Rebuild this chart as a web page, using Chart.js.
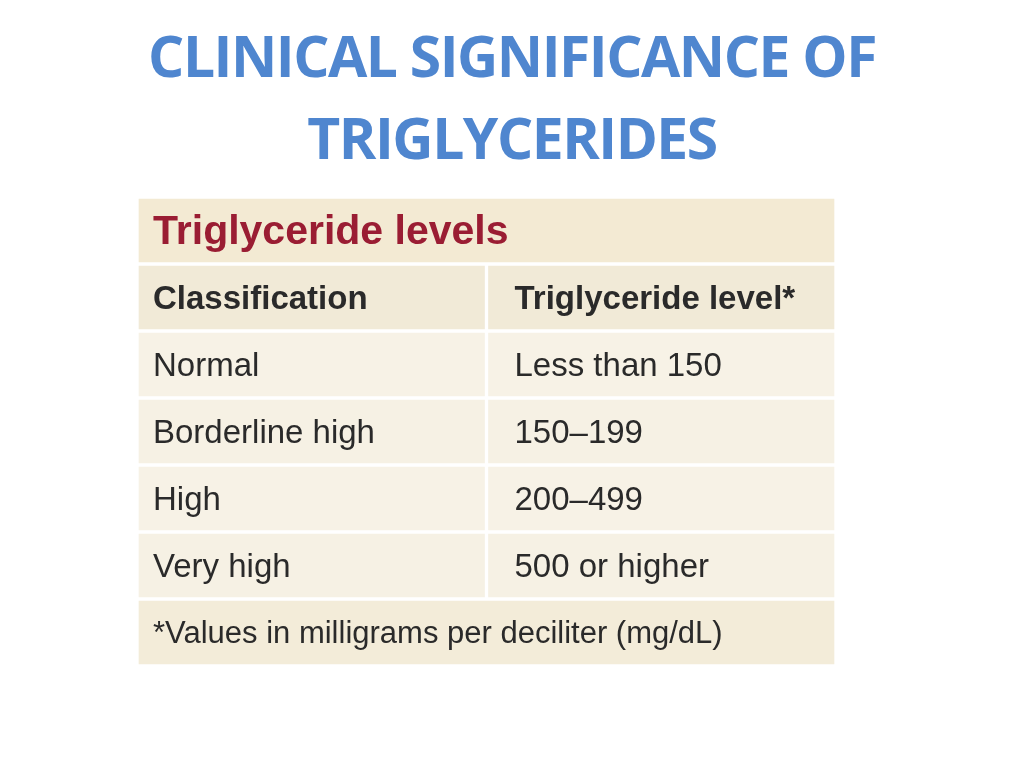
<!DOCTYPE html>
<html>
<head>
<meta charset="utf-8">
<script src="https://cdn.jsdelivr.net/npm/chart.js@4"></script>
<style>
  body { margin: 0; width: 1024px; height: 768px; background: #fff; position: relative; overflow: hidden; }
  #title { position: absolute; top: 14px; left: 0; width: 1024px; text-align: center;
    font-family: "Open Sans", sans-serif; font-weight: 700; font-size: 57px; line-height: 82px;
    color: #4f86cf; letter-spacing: -1.5px; }
  #wrap { position: absolute; left: 137px; top: 197px; width: 699px; height: 469px; }
</style>
</head>
<body>
<div id="title">CLINICAL SIGNIFICANCE OF<br>TRIGLYCERIDES</div>
<div id="wrap"><canvas id="table"></canvas></div>
<script>
const rowKeys = ["title", "header", "normal", "borderline", "high", "veryhigh", "footer"];
const leftText = ["Triglyceride levels", "Classification", "Normal", "Borderline high", "High", "Very high", "*Values in milligrams per deciliter (mg/dL)"];
const rightText = [null, "Triglyceride level*", "Less than 150", "150\u2013199", "200\u2013499", "500 or higher", null];
const leftCells = [[0, 2], [0, 1], [0, 1], [0, 1], [0, 1], [0, 1], [0, 2]];
const rightCells = [null, [1, 2], [1, 2], [1, 2], [1, 2], [1, 2], null];
const rowColors = ["#f3ead3", "#f1ead7", "#f7f2e6", "#f6f1e4", "#f7f2e6", "#f6f1e4", "#f3ecd9"];

const textPlugin = {
  id: "cellText",
  afterDatasetsDraw(chart) {
    const ctx = chart.ctx;
    const x = chart.scales.x, y = chart.scales.y;
    ctx.save();
    ctx.textBaseline = "middle";
    rowKeys.forEach((k, i) => {
      const py = y.getPixelForValue(i);
      if (i === 0) {
        ctx.font = "bold 41px 'Liberation Sans', sans-serif";
        ctx.fillStyle = "#9a1d33";
      } else if (i === 6) {
        ctx.font = "31px 'Liberation Sans', sans-serif";
        ctx.fillStyle = "#2a2a2a";
      } else {
        ctx.font = (i === 1 ? "bold " : "") + "33px 'Liberation Sans', sans-serif";
        ctx.fillStyle = "#2a2a2a";
      }
      ctx.fillText(leftText[i], x.getPixelForValue(0) + 16, py + 2);
      if (rightText[i]) ctx.fillText(rightText[i], x.getPixelForValue(1) + 28, py + 2);
    });
    ctx.restore();
  }
};

new Chart(document.getElementById("table"), {
  type: "bar",
  data: {
    labels: rowKeys,
    datasets: [
      { data: leftCells, backgroundColor: rowColors, borderColor: "#ffffff", borderWidth: 2, borderSkipped: false },
      { data: rightCells, backgroundColor: rowColors, borderColor: "#ffffff", borderWidth: 2, borderSkipped: false }
    ]
  },
  options: {
    indexAxis: "y",
    responsive: true,
    maintainAspectRatio: false,
    animation: false,
    layout: { padding: 0 },
    datasets: { bar: { grouped: false, barPercentage: 1, categoryPercentage: 1 } },
    plugins: { legend: { display: false }, tooltip: { enabled: false } },
    scales: {
      x: { display: false, min: 0, max: 2 },
      y: { display: false }
    }
  },
  plugins: [textPlugin]
});
</script>
</body>
</html>
